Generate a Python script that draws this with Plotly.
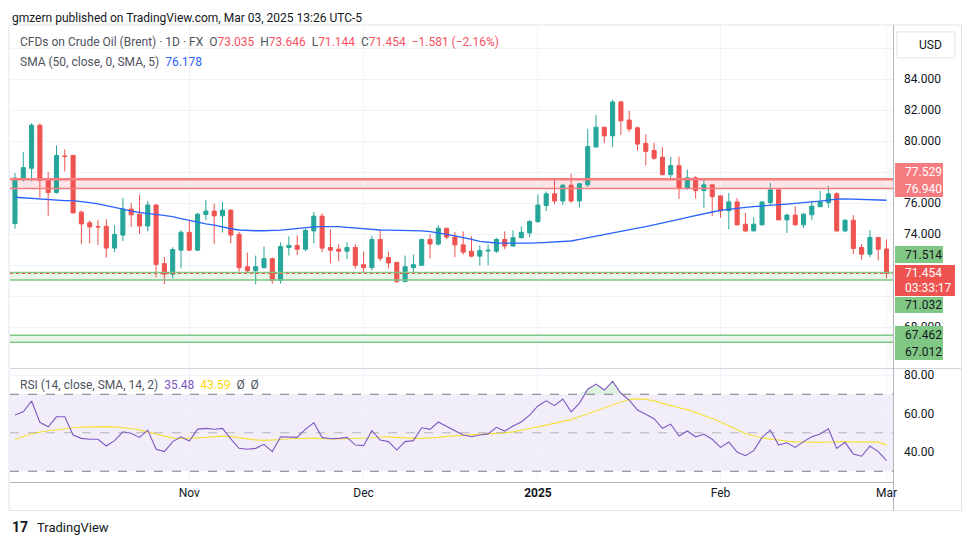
import plotly.graph_objects as go

# ---------------- data ----------------
opens = [74.67, 77.59, 78.24, 81.02, 77.50, 76.67, 79.04, 79.07, 75.41, 74.72,
         74.48, 74.50, 73.09, 73.93, 75.61, 75.28, 74.52, 75.87, 72.09, 71.41,
         72.96, 74.11, 72.96, 75.26, 75.48, 75.17, 75.54, 73.98, 71.89, 71.63,
         71.83, 72.41, 71.00, 73.13, 73.26, 73.02, 74.20, 75.15, 73.13, 73.02,
         72.89, 73.13, 72.02, 71.83, 73.65, 72.48, 72.17, 70.93, 71.83, 71.98,
         73.65, 73.35, 74.37, 73.80, 73.30, 72.89, 72.57, 72.90, 72.89, 73.65,
         73.22, 73.76, 74.07, 74.80, 75.83, 76.59, 76.13, 77.15, 76.13, 77.17,
         79.61, 80.89, 80.33, 82.52, 81.35, 80.85, 79.85, 79.39, 78.96, 77.83,
         78.41, 76.96, 77.63, 76.80, 77.17, 76.46, 75.50, 76.07, 74.63, 74.20,
         74.59, 76.02, 76.85, 74.91, 75.22, 74.59, 75.24, 75.76, 76.02, 76.59,
         74.20, 74.89, 73.13, 72.70, 73.78, 73.035]
highs = [77.93, 79.30, 81.15, 81.13, 78.00, 79.72, 79.46, 79.10, 75.52, 74.87,
         74.90, 74.96, 74.57, 76.33, 76.00, 76.52, 76.13, 75.90, 72.52, 73.15,
         74.24, 74.91, 75.37, 76.20, 75.96, 76.07, 75.61, 74.13, 72.80, 72.61,
         73.20, 72.48, 73.46, 73.85, 73.91, 74.35, 75.41, 75.35, 74.30, 73.33,
         73.46, 73.33, 72.87, 73.89, 74.24, 72.87, 72.20, 72.61, 72.67, 73.70,
         73.98, 74.57, 74.40, 74.13, 74.17, 73.85, 73.26, 73.33, 73.76, 74.17,
         74.24, 74.50, 74.89, 76.54, 76.74, 77.48, 77.24, 77.89, 77.30, 80.78,
         81.67, 80.90, 82.65, 82.60, 81.96, 80.93, 80.43, 79.89, 79.61, 78.98,
         79.00, 78.15, 77.72, 77.57, 77.20, 76.50, 76.65, 76.33, 75.35, 75.09,
         76.10, 77.30, 76.96, 75.33, 75.80, 75.35, 76.15, 76.78, 77.11, 76.70,
         74.95, 75.22, 73.35, 74.24, 73.80, 73.646]
lows = [74.35, 77.39, 77.39, 76.35, 75.17, 76.62, 78.04, 75.30, 73.35, 73.41,
        73.28, 72.48, 72.83, 73.54, 74.46, 74.00, 74.17, 71.20, 70.76, 71.13,
        71.78, 72.90, 72.90, 74.89, 73.35, 74.09, 73.41, 71.57, 71.52, 70.74,
        71.76, 70.80, 70.80, 72.61, 72.63, 72.89, 73.41, 72.83, 72.11, 72.24,
        72.37, 71.76, 71.52, 71.65, 72.24, 71.78, 70.85, 70.90, 71.52, 71.95,
        72.41, 73.26, 73.67, 72.50, 72.67, 72.50, 71.98, 71.98, 72.78, 73.02,
        73.20, 73.72, 73.80, 74.72, 75.48, 75.93, 75.87, 76.02, 75.70, 77.04,
        79.60, 79.87, 79.61, 80.39, 80.59, 79.39, 78.43, 78.78, 77.78, 77.61,
        76.26, 76.85, 76.28, 75.70, 75.17, 75.04, 74.30, 74.55, 74.13, 74.20,
        74.55, 75.87, 74.90, 74.07, 74.55, 74.39, 74.91, 75.75, 75.70, 74.15,
        74.13, 72.70, 72.35, 72.50, 72.28, 71.144]
closes = [77.61, 78.28, 81.02, 77.46, 76.67, 79.07, 79.00, 75.37, 74.65, 74.46,
          74.46, 73.09, 73.98, 75.61, 75.24, 74.52, 75.87, 72.04, 71.41, 73.00,
          74.11, 72.96, 75.28, 75.48, 75.17, 75.54, 73.93, 71.83, 71.63, 71.89,
          72.41, 71.00, 73.20, 73.26, 73.02, 74.24, 75.15, 73.09, 72.96, 72.89,
          73.13, 71.98, 71.83, 73.65, 72.43, 72.13, 70.93, 71.89, 72.02, 73.65,
          73.35, 74.37, 73.80, 73.30, 72.83, 72.57, 72.93, 72.95, 73.65, 73.22,
          73.76, 74.11, 74.80, 75.87, 76.59, 76.13, 77.15, 76.13, 77.24, 79.65,
          80.89, 80.33, 82.52, 81.30, 80.78, 79.80, 79.33, 78.89, 77.83, 78.41,
          76.96, 77.63, 76.80, 77.17, 76.41, 75.50, 76.07, 74.59, 74.20, 74.63,
          76.07, 76.85, 74.91, 75.22, 74.59, 75.28, 75.80, 76.07, 76.59, 74.20,
          74.89, 73.07, 72.70, 73.78, 73.02, 71.454]
sma50 = [76.37, 76.33, 76.30, 76.27, 76.22, 76.17, 76.15, 76.15, 76.10, 76.02,
         75.94, 75.84, 75.72, 75.60, 75.47, 75.38, 75.32, 75.27, 75.20, 75.12,
         75.00, 74.88, 74.76, 74.66, 74.57, 74.45, 74.34, 74.26, 74.22, 74.21,
         74.21, 74.21, 74.25, 74.30, 74.36, 74.42, 74.46, 74.48, 74.48, 74.47,
         74.43, 74.38, 74.33, 74.29, 74.26, 74.25, 74.24, 74.23, 74.21, 74.20,
         74.15, 74.08, 73.98, 73.88, 73.78, 73.65, 73.52, 73.46, 73.42, 73.41,
         73.40, 73.40, 73.41, 73.43, 73.45, 73.47, 73.49, 73.55, 73.65, 73.76,
         73.85, 73.97, 74.08, 74.18, 74.28, 74.38, 74.47, 74.58, 74.70, 74.82,
         74.95, 75.07, 75.20, 75.32, 75.42, 75.52, 75.60, 75.66, 75.72, 75.77,
         75.80, 75.84, 75.88, 75.93, 75.97, 76.01, 76.07, 76.12, 76.18, 76.25,
         76.27, 76.26, 76.25, 76.23, 76.21, 76.178]
rsi = [59.2, 60.9, 66.5, 55.4, 53.1, 58.3, 58.3, 48.8, 47.1, 46.6,
       46.6, 43.1, 45.9, 50.5, 49.7, 47.6, 51.4, 41.4, 40.2, 45.4,
       47.9, 45.7, 51.9, 52.3, 51.8, 52.3, 46.8, 41.9, 41.4, 41.9,
       44.0, 40.2, 47.9, 47.9, 47.6, 51.9, 55.2, 47.6, 46.9, 47.1,
       47.6, 43.6, 43.3, 51.1, 46.2, 45.4, 41.0, 45.4, 45.9, 52.6,
       51.8, 55.6, 53.5, 51.1, 48.8, 47.9, 48.8, 49.4, 52.8, 50.9,
       53.5, 55.6, 59.2, 63.9, 66.6, 64.1, 67.5, 60.9, 65.3, 72.6,
       75.3, 72.2, 76.7, 70.5, 67.0, 61.8, 59.6, 57.3, 52.3, 54.5,
       48.3, 50.9, 47.9, 49.2, 46.6, 42.4, 45.2, 40.0, 38.1, 40.7,
       47.6, 51.4, 43.6, 44.8, 42.4, 45.4, 47.9, 49.4, 52.1, 41.9,
       45.0, 39.0, 37.8, 43.1, 40.2, 35.48]
rsi_ma = [46.5, 48.0, 49.5, 50.4, 51.0, 51.6, 52.2, 52.6, 52.9, 53.1,
          53.2, 53.2, 53.1, 52.8, 52.2, 51.5, 50.5, 49.4, 48.2, 47.2,
          46.9, 47.0, 47.2, 47.6, 48.0, 48.3, 48.0, 47.4, 46.8, 46.3,
          46.0, 46.1, 46.5, 46.9, 47.1, 47.2, 47.2, 47.0, 46.8, 46.8,
          46.9, 47.0, 47.1, 47.4, 47.8, 47.9, 47.6, 47.3, 47.1, 47.1,
          47.2, 47.6, 48.1, 48.4, 48.5, 48.6, 49.0, 49.3, 49.5, 49.9,
          50.5, 51.2, 52.2, 53.1, 54.0, 54.8, 55.8, 56.8, 58.3, 59.9,
          61.3, 63.2, 64.6, 66.0, 67.2, 67.6, 67.3, 66.6, 65.3, 64.0,
          63.0, 62.0, 60.6, 59.2, 57.4, 55.6, 53.8, 51.6, 49.6, 48.3,
          47.3, 46.7, 46.1, 45.7, 45.3, 45.1, 45.0, 45.0, 45.2, 45.4,
          45.4, 45.3, 45.2, 45.3, 45.1, 43.59]

month_idx = [21, 42, 63, 85, 105]
month_labels = ["Nov", "Dec", "<b>2025</b>", "Feb", "Mar"]
price_ticks = [68, 70, 72, 74, 76, 78, 80, 82, 84, 86]
price_tick_labels = ["68.000", "", "", "74.000", "76.000", "", "80.000", "82.000", "84.000", ""]
rsi_ticks = [40, 60, 80]
rsi_tick_labels = ["40.00", "60.00", "80.00"]
red_zone = [77.529, 76.940]
green_zone_1 = [71.514, 71.032]
green_zone_2 = [67.462, 67.012]
last_price = 71.454
rsi_levels = [70, 50, 30]

# ---------------- geometry (reference pixels; page body has an 8px margin) ----------------
OFF = 8
W, H = 970 - 2 * OFF, 545 - 2 * OFF
L, R, T, B = 10, 893, 26, 482
SPLIT_TOP, SPLIT_BOT = 368, 369


def px(x):
    return (x - L) / (R - L)


def py(y):
    return (B - y) / (B - T)


x = list(range(len(closes)))
FONT = "Roboto"
GREEN, RED = "#26a69a", "#ef5350"

fig = go.Figure()

fig.add_trace(go.Candlestick(
    x=x, open=opens, high=highs, low=lows, close=closes,
    increasing=dict(line=dict(color=GREEN, width=1), fillcolor=GREEN),
    decreasing=dict(line=dict(color=RED, width=1), fillcolor=RED),
    whiskerwidth=0, xaxis="x", yaxis="y", showlegend=False, hoverinfo="skip"))

fig.add_trace(go.Scatter(x=x, y=sma50, mode="lines", line=dict(color="#2962ff", width=1.3),
                         xaxis="x", yaxis="y", showlegend=False, hoverinfo="skip"))

# RSI overbought fill
fig.add_trace(go.Scatter(x=x, y=[70] * len(rsi), mode="lines", line=dict(width=0),
                         xaxis="x2", yaxis="y2", showlegend=False, hoverinfo="skip"))
fig.add_trace(go.Scatter(x=x, y=[max(v, 70) for v in rsi], mode="lines", line=dict(width=0),
                         fill="tonexty", fillcolor="rgba(76,175,80,0.18)",
                         xaxis="x2", yaxis="y2", showlegend=False, hoverinfo="skip"))
fig.add_trace(go.Scatter(x=x, y=rsi_ma, mode="lines", line=dict(color="#f5e13c", width=1.2),
                         xaxis="x2", yaxis="y2", showlegend=False, hoverinfo="skip"))
fig.add_trace(go.Scatter(x=x, y=rsi, mode="lines", line=dict(color="#7e57c2", width=1.1),
                         xaxis="x2", yaxis="y2", showlegend=False, hoverinfo="skip"))

shapes = []
# zones
shapes.append(dict(type="rect", xref="x domain", yref="y", x0=0, x1=1, y0=red_zone[1], y1=red_zone[0],
                   fillcolor="rgba(242,54,69,0.13)", line=dict(width=0), layer="below"))
shapes.append(dict(type="line", xref="x domain", yref="y", x0=0, x1=1, y0=red_zone[0], y1=red_zone[0],
                   line=dict(color="#f77c80", width=2.5)))
shapes.append(dict(type="line", xref="x domain", yref="y", x0=0, x1=1, y0=red_zone[1], y1=red_zone[1],
                   line=dict(color="#f77c80", width=1.5)))
for z in (green_zone_1, green_zone_2):
    shapes.append(dict(type="rect", xref="x domain", yref="y", x0=0, x1=1, y0=z[1], y1=z[0],
                       fillcolor="rgba(76,175,80,0.13)", line=dict(width=0), layer="below"))
    for v in z:
        shapes.append(dict(type="line", xref="x domain", yref="y", x0=0, x1=1, y0=v, y1=v,
                           line=dict(color="#81c784", width=1.5)))
shapes.append(dict(type="line", xref="x domain", yref="y", x0=0, x1=1, y0=last_price, y1=last_price,
                   line=dict(color=RED, width=1, dash="dot")))

# RSI background band and levels
shapes.append(dict(type="rect", xref="x2 domain", yref="y2", x0=0, x1=1, y0=30, y1=70,
                   fillcolor="rgba(126,87,194,0.1)", line=dict(width=0), layer="below"))
for lv in rsi_levels:
    shapes.append(dict(type="line", xref="x2 domain", yref="y2", x0=0, x1=1, y0=lv, y1=lv,
                       line=dict(color="#787b86" if lv != 50 else "rgba(120,123,134,0.5)",
                                 width=1, dash="dash")))

# pane separator, frame
shapes.append(dict(type="line", xref="paper", yref="paper", x0=px(L), x1=px(962), y0=py(368.5), y1=py(368.5),
                   line=dict(color="#d1d4dc", width=1)))
shapes.append(dict(type="rect", xref="paper", yref="paper", x0=px(9), x1=px(961.5), y0=py(510.5), y1=py(25),
                   line=dict(color="#e0e3eb", width=1), fillcolor="rgba(0,0,0,0)"))
shapes.append(dict(type="line", xref="paper", yref="paper", x0=px(R + 0.5), x1=px(R + 0.5), y0=py(510.5), y1=py(25),
                   line=dict(color="#b2b5be", width=1)))
# USD button
shapes.append(dict(type="rect", xref="paper", yref="paper", x0=px(897), x1=px(955), y0=py(58), y1=py(32),
                   line=dict(color="#e0e3eb", width=1), fillcolor="white"))

annotations = []


def label_box(y0, y1, color, x1=943):
    shapes.append(dict(type="rect", xref="paper", yref="paper", x0=px(895), x1=px(x1), y0=py(y1), y1=py(y0),
                       fillcolor=color, line=dict(width=0), layer="above"))


def txt(xp, yp, text, color="#131722", size=12, anchor="left", yanchor="middle"):
    annotations.append(dict(xref="paper", yref="paper", x=px(xp), y=py(yp), text=text, showarrow=False,
                            xanchor=anchor, yanchor=yanchor, font=dict(family=FONT, size=size, color=color)))


# price labels on the axis
label_box(163, 197, "#f77c80")
txt(903, 172, f"{red_zone[0]:.3f}", "white")
txt(903, 189, f"{red_zone[1]:.3f}", "white")
label_box(246, 263, "#81c784")
txt(903, 254.5, f"{green_zone_1[0]:.3f}")
label_box(265, 296, RED, x1=955)
txt(903, 273, f"{last_price:.3f}", "white")
txt(903, 288, "03:33:17", "white")
label_box(297, 313, "#81c784")
txt(903, 305, f"{green_zone_1[1]:.3f}")
label_box(326, 360, "#81c784")
txt(903, 334.5, f"{green_zone_2[0]:.3f}")
txt(903, 352, f"{green_zone_2[1]:.3f}")
txt(917, 45, "USD", "#131722", 12)

# header / legends
txt(10, 8.5, "gmzern published on TradingView.com, Mar 03, 2025 13:26 UTC-5", "#131722", 12, yanchor="top")
r = "#f7525f"
leg1 = ("CFDs on Crude Oil (Brent) · 1D · FX  O<span style='color:%s'>73.035</span>  "
        "H<span style='color:%s'>73.646</span>  L<span style='color:%s'>71.144</span>  "
        "C<span style='color:%s'>71.454</span>  <span style='color:%s'>−1.581 (−2.16%%)</span>") % (r, r, r, r, r)
txt(18, 42, leg1, "#50535e", 12)
txt(18, 62, "SMA (50, close, 0, SMA, 5)  <span style='color:#2962ff'>76.178</span>", "#50535e", 12)
txt(18, 385, "RSI (14, close, SMA, 14, 2)  <span style='color:#7e57c2'>35.48</span>  "
    "<span style='color:#f5d90a'>43.59</span>  Ø  Ø", "#50535e", 12)
# footer logo
txt(10, 527, "<b>17</b>", "#131722", 14)
txt(35, 527, "TradingView", "#131722", 13)

fig.update_layout(
    width=W, height=H,
    margin=dict(l=L - OFF, r=W - (R - OFF), t=T - OFF, b=H - (B - OFF), pad=0),
    paper_bgcolor="white", plot_bgcolor="white",
    font=dict(family=FONT, size=12, color="#131722"),
    showlegend=False,
    shapes=shapes, annotations=annotations,
    xaxis=dict(domain=[0, 1], anchor="y", range=[-0.6, 105.78], tickvals=month_idx, showticklabels=False,
               showgrid=True, gridcolor="#f0f3fa", zeroline=False, rangeslider=dict(visible=False), fixedrange=True),
    xaxis2=dict(domain=[0, 1], anchor="y2", range=[-0.6, 105.78], tickvals=month_idx, ticktext=month_labels,
                showgrid=True, gridcolor="#f0f3fa", zeroline=False, showline=True, linecolor="#b2b5be",
                tickfont=dict(family=FONT, size=12, color="#131722"), ticks="", ticklabelstandoff=0),
    yaxis=dict(domain=[(B - SPLIT_TOP) / (B - T), 1], anchor="x", side="right", range=[65.355, 87.42],
               tickvals=price_ticks, ticktext=price_tick_labels, showgrid=True, gridcolor="#f0f3fa",
               zeroline=False, ticks="", ticklabelstandoff=10,
               tickfont=dict(family=FONT, size=12, color="#131722")),
    yaxis2=dict(domain=[0, (B - SPLIT_BOT) / (B - T)], anchor="x2", side="right", range=[24.42, 83.12],
                tickvals=rsi_ticks, ticktext=rsi_tick_labels, showgrid=True, gridcolor="#f0f3fa",
                zeroline=False, ticks="", ticklabelstandoff=10,
                tickfont=dict(family=FONT, size=12, color="#131722")),
)

fig.write_html("out.html")
